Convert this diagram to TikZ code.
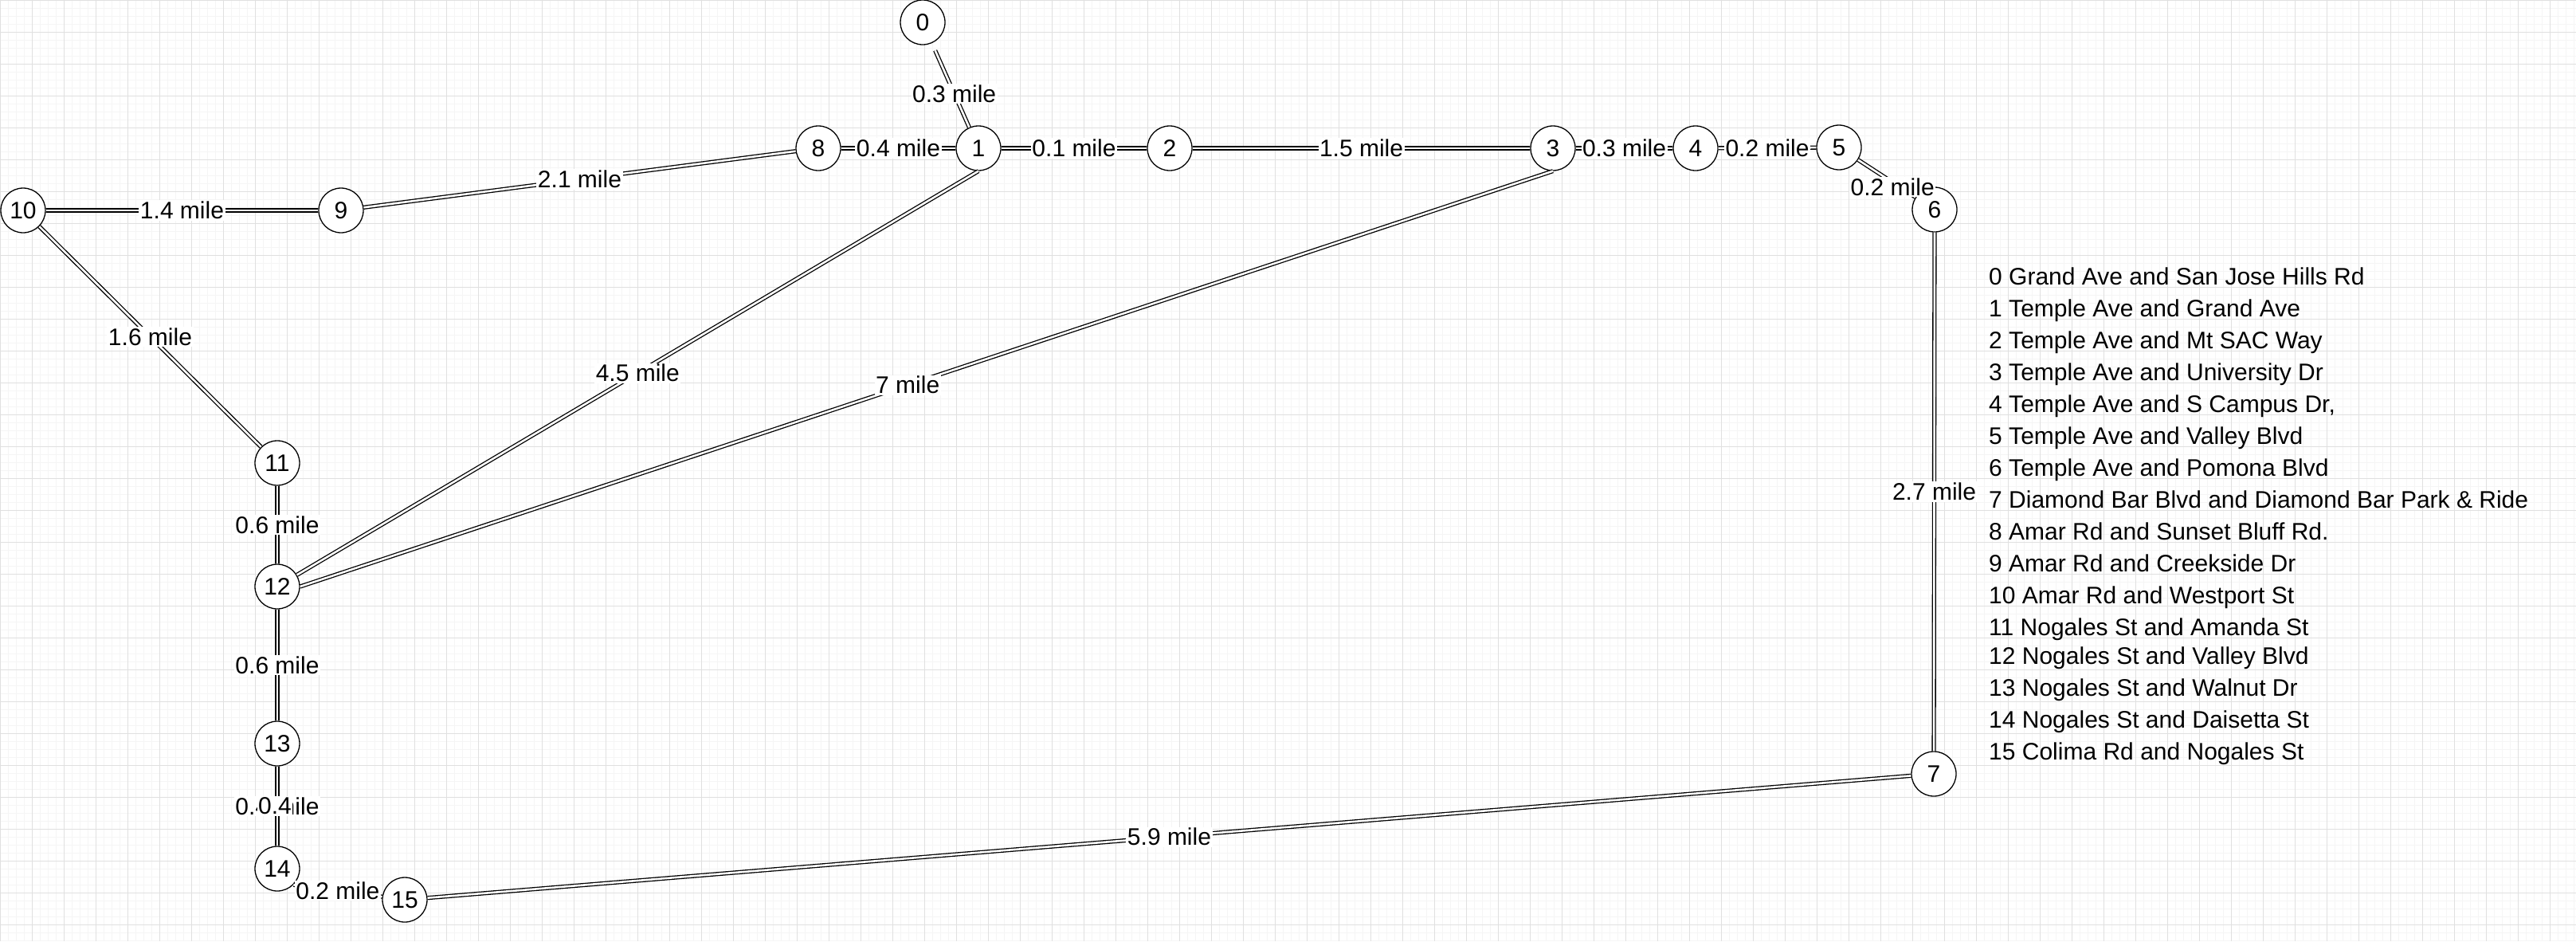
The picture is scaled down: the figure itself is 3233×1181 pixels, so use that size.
\documentclass[tikz,border=0pt]{standalone}
\usepackage{fontspec}
\setmainfont{Liberation Sans}
\usepackage{tikz}
\usetikzlibrary{calc}
\tikzset{stopnode/.style={draw, circle, line width=1.3pt, fill=white,
  minimum size=56pt, inner sep=0pt, font=\fontsize{30}{36}\selectfont}}
\tikzset{road/.style={draw, double=white, double distance=2.6pt, line width=1.3pt}}
\tikzset{dist/.style={fill=white, inner sep=1.5pt, font=\fontsize{30}{36}\selectfont}}
\tikzset{legendtxt/.style={inner sep=0pt, anchor=base west, font=\fontsize{30}{36}\selectfont}}

\begin{document}
\begin{tikzpicture}[x=1pt,y=-1pt]
\useasboundingbox (0,0) rectangle (3233,1181);
\fill[white] (0,0) rectangle (3233,1181);
% grid
\foreach \gx in {0,10,...,3230} \draw[black!4, line width=1pt] (\gx,0) -- (\gx,1181);
\foreach \gy in {0,10,...,1180} \draw[black!4, line width=1pt] (0,\gy) -- (3233,\gy);
\foreach \gx in {0,40,...,3200} \draw[black!12, line width=1pt] (\gx,0) -- (\gx,1181);
\foreach \gy in {0,40,...,1160} \draw[black!12, line width=1pt] (0,\gy) -- (3233,\gy);

% stops
\node[stopnode] (s0) at (1158,28) {0};
\node[stopnode] (s1) at (1228,186) {1};
\node[stopnode] (s2) at (1468,186) {2};
\node[stopnode] (s3) at (1949,186) {3};
\node[stopnode] (s4) at (2128,186) {4};
\node[stopnode] (s5) at (2308,185) {5};
\node[stopnode] (s6) at (2428,263) {6};
\node[stopnode] (s7) at (2427,971) {7};
\node[stopnode] (s8) at (1027,186) {8};
\node[stopnode] (s9) at (428,264) {9};
\node[stopnode] (s10) at (29,264) {10};
\node[stopnode] (s11) at (348,581) {11};
\node[stopnode] (s12) at (348,736) {12};
\node[stopnode] (s13) at (348,933) {13};
\node[stopnode] (s14) at (348,1090) {14};
\node[stopnode] (s15) at (508,1129) {15};

% roads
\draw[road, shorten <=10pt] (s0) -- node[dist, pos=0.6] {0.3 mile} (s1);
\draw[road] (s8) -- node[dist] {0.4 mile} (s1);
\draw[road] (s1) -- node[dist] {0.1 mile} (s2);
\draw[road] (s2) -- node[dist] {1.5 mile} (s3);
\draw[road] (s3) -- node[dist] {0.3 mile} (s4);
\draw[road] (s4) -- node[dist] {0.2 mile} (s5);
\draw[road] (s5) -- node[dist, pos=0.6, yshift=-6pt] {0.2 mile} (s6);
\draw[road] (s6) -- node[dist] {2.7 mile} (s7);
\draw[road] (s7) -- node[dist] {5.9 mile} (s15);
\draw[road] (s9) -- node[dist] {2.1 mile} (s8);
\draw[road] (s10) -- node[dist] {1.4 mile} (s9);
\draw[road] (s10) -- node[dist] {1.6 mile} (s11);
\draw[road] (s1.south) -- node[dist] {4.5 mile} (s12);
\draw[road] (s3.south) -- node[dist, pos=0.515] {7 mile} (s12.east);
\draw[road] (s11) -- node[dist] {0.6 mile} (s12);
\draw[road] (s12) -- node[dist] {0.6 mile} (s13);
\draw[road] (s13) -- node[dist] (d13) {0.4 mile} (s14);
\node[dist] (d13b) at ($(d13)+(-3,0)$) {0.4};
\draw[road] (s14.south east) -- node[dist] {0.2 mile} (s15);

% legend
\foreach \y/\txt in {346/0 Grand Ave and San Jose Hills Rd,
  386/1 Temple Ave and Grand Ave,
  426/2 Temple Ave and Mt SAC Way,
  466/3 Temple Ave and University Dr,
  506/{4 Temple Ave and S Campus Dr,},
  546/5 Temple Ave and Valley Blvd,
  586/6 Temple Ave and Pomona Blvd,
  626/7 Diamond Bar Blvd and Diamond Bar Park \& Ride,
  666/8 Amar Rd and Sunset Bluff Rd.,
  706/9 Amar Rd and Creekside Dr,
  746/10 Amar Rd and Westport St,
  786/11 Nogales St and Amanda St,
  822/12 Nogales St and Valley Blvd,
  862/13 Nogales St and Walnut Dr,
  902/14 Nogales St and Daisetta St,
  942/15 Colima Rd and Nogales St}
  \node[legendtxt] at (2496,\y+11) {\txt};
\end{tikzpicture}
\end{document}
